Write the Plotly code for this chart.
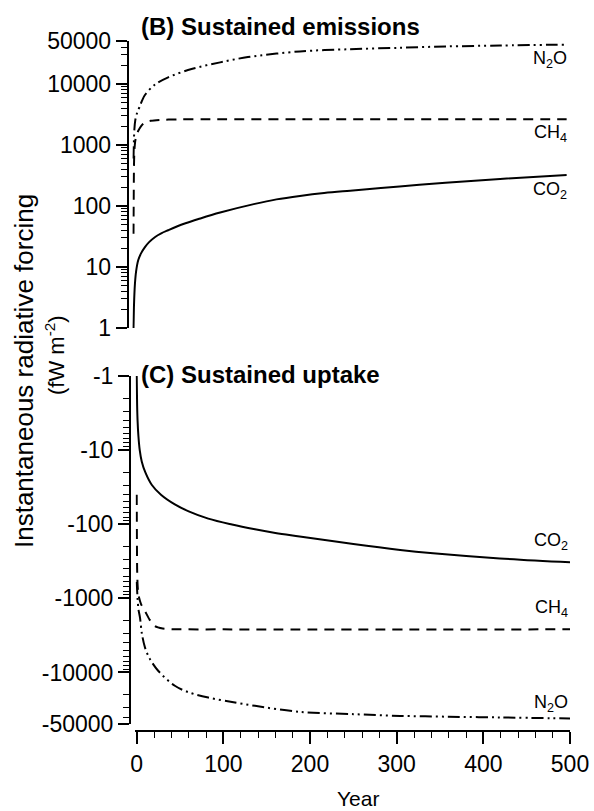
import math
import plotly.graph_objects as go

# ---------------- data ----------------
# Panel B: sustained emissions (fW m-2)
b_co2_years = [0, 0.5, 1, 1.7, 3, 5.5, 9, 13, 18, 25, 32, 40, 50, 60, 75, 100, 140, 165, 192, 220, 250, 307, 360, 423, 500]
b_co2_vals = [1, 2.2, 3.5, 5.4, 8.5, 13, 17, 21, 25.5, 31, 35.5, 40, 46, 52, 61, 78, 108, 128, 146, 163, 178, 208, 240, 277, 322]

b_ch4_years = [0, 0.5, 1, 2, 3.5, 5.5, 9, 13, 20, 30, 50, 80, 200, 500]
b_ch4_vals = [35, 400, 800, 1150, 1450, 1700, 2050, 2330, 2480, 2560, 2620, 2640, 2640, 2640]

b_n2o_years = [0, 0.5, 1, 2, 4, 7, 13, 25, 40, 67, 100, 132, 192, 250, 307, 360, 423, 500]
b_n2o_vals = [600, 1200, 1800, 2500, 3300, 4200, 6500, 9800, 12800, 17500, 22500, 27500, 34000, 37000, 39000, 41000, 42500, 44000]

# Panel C: sustained uptake (fW m-2, negative)
c_co2_years = [0, 0.5, 1, 2, 3.5, 5.8, 10, 17.3, 28, 44, 60, 82.6, 110, 136.5, 160, 188, 250, 304, 342, 419, 500]
c_co2_vals = [-1, -2.5, -4, -6.5, -10, -14.2, -20, -29.3, -40, -54, -67, -84, -101, -117, -131, -146, -185, -222, -246, -289, -326]

c_ch4_years = [0, 0.5, 1, 2, 5, 9.6, 15, 21, 30, 44, 100, 500]
c_ch4_vals = [-40, -400, -650, -900, -1200, -1490, -1950, -2370, -2550, -2610, -2620, -2620]

c_n2o_years = [0, 1, 2, 3.8, 6, 9.6, 15, 25, 44, 60, 82.6, 110, 136.5, 188, 250, 304, 360, 419, 500]
c_n2o_vals = [-600, -1000, -1400, -1820, -3000, -4620, -6500, -9550, -15100, -18500, -21800, -25000, -28200, -34000, -36500, -38500, -39500, -40400, -41700]

x_ticks = [0, 100, 200, 300, 400, 500]
x_minor = [v for v in range(20, 500, 20) if v % 100 != 0]
b_ticks = [1, 10, 100, 1000, 10000, 50000]
b_ticktext = ["1", "10", "100", "1000", "10000", "50000"]
c_ticks = [1, 10, 100, 1000, 10000, 50000]
c_ticktext = ["-1", "-10", "-100", "-1000", "-10000", "-50000"]
log_minor = [m * 10 ** d for d in range(0, 4) for m in range(2, 10)] + [20000, 30000, 40000]

# ---------------- figure ----------------
W, H = 594, 811
FONT = "Liberation Sans, Arial, Helvetica, sans-serif"
DASH_CH4 = "10px,7px"
DASH_N2O = "12px,4px,2px,4px,2px,4px"


def px(p):
    return p / W


def py(p):
    return 1 - p / H


fig = go.Figure()


def line(dash=None, smoothing=1.0):
    d = dict(color="black", width=2, shape="spline", smoothing=smoothing)
    if dash:
        d["dash"] = dash
    return d


fig.add_trace(go.Scatter(x=b_co2_years, y=b_co2_vals, mode="lines", line=line(),
                         xaxis="x2", yaxis="y2", hoverinfo="skip"))
fig.add_trace(go.Scatter(x=b_ch4_years, y=b_ch4_vals, mode="lines", line=line(DASH_CH4, 0.6),
                         xaxis="x2", yaxis="y2", hoverinfo="skip"))
fig.add_trace(go.Scatter(x=b_n2o_years, y=b_n2o_vals, mode="lines", line=line(DASH_N2O, 0.9),
                         xaxis="x2", yaxis="y2", hoverinfo="skip"))

# bottom panel: negative values shown on a reversed log scale of their magnitude
fig.add_trace(go.Scatter(x=c_co2_years, y=[-v for v in c_co2_vals], mode="lines", line=line(),
                         xaxis="x", yaxis="y", hoverinfo="skip"))
fig.add_trace(go.Scatter(x=c_ch4_years, y=[-v for v in c_ch4_vals], mode="lines", line=line(DASH_CH4, 0.6),
                         xaxis="x", yaxis="y", hoverinfo="skip"))
fig.add_trace(go.Scatter(x=c_n2o_years, y=[-v for v in c_n2o_vals], mode="lines", line=line(DASH_N2O, 0.9),
                         xaxis="x", yaxis="y", hoverinfo="skip"))

x0_bot = 136.7
x0_top = 133.5
pxyr = (570.0 - 136.7) / 500.0
pad_yr = 1.5
TICKSIZE = 23


def y_axis(**kw):
    d = dict(type="log", showline=True, linewidth=2, linecolor="black", ticks="outside",
             ticklen=11, tickwidth=1.5, tickcolor="black", showgrid=False, zeroline=False,
             automargin=False, tickformat="d", tickmode="array",
             tickfont=dict(family=FONT, size=TICKSIZE, color="black"),
             minor=dict(tickmode="array", tickvals=log_minor, ticks="outside", ticklen=6,
                        tickwidth=1, tickcolor="black", showgrid=False))
    d.update(kw)
    return d


fig.update_layout(
    width=W, height=H,
    margin=dict(l=0, r=0, t=0, b=0, pad=0, autoexpand=False),
    paper_bgcolor="white", plot_bgcolor="white",
    showlegend=False,
    font=dict(family=FONT, color="black"),
    xaxis=dict(domain=[px(x0_bot - pad_yr * pxyr), px(x0_bot + 500 * pxyr)], range=[-pad_yr, 500],
               anchor="free", position=py(731), automargin=False,
               showline=True, linewidth=2, linecolor="black", ticks="outside", ticklen=12, tickwidth=1.5,
               tickcolor="black", tickmode="array", tickvals=x_ticks, ticktext=[str(v) for v in x_ticks],
               tickfont=dict(family=FONT, size=TICKSIZE, color="black"),
               minor=dict(tickmode="array", tickvals=x_minor, ticks="outside", ticklen=6, tickwidth=1,
                          tickcolor="black", showgrid=False),
               showgrid=False, zeroline=False),
    yaxis=y_axis(domain=[py(724.3), py(376)], range=[math.log10(50000), 0], anchor="free",
                 position=px(130), tickvals=c_ticks, ticktext=c_ticktext),
    xaxis2=dict(domain=[px(x0_top - pad_yr * pxyr), px(x0_top + 500 * pxyr)], range=[-pad_yr, 500],
                anchor="y2", visible=False, showgrid=False, zeroline=False, automargin=False),
    yaxis2=y_axis(domain=[py(328), py(41.2)], range=[0, math.log10(50000)], anchor="free",
                  position=px(127.7), tickvals=b_ticks, ticktext=b_ticktext),
)

ann = []


def add_text(text, x, y, size, xanchor="center", yanchor="middle", angle=0, bold=False):
    t = f"<b>{text}</b>" if bold else text
    ann.append(dict(text=t, x=px(x), y=py(y), xref="paper", yref="paper", xanchor=xanchor, yanchor=yanchor,
                    showarrow=False, textangle=angle, font=dict(family=FONT, size=size, color="black")))


add_text("(B) Sustained emissions", 139, 27, 24, xanchor="left", bold=True)
add_text("(C) Sustained uptake", 139, 374, 24, xanchor="left", bold=True)
add_text("Instantaneous radiative forcing", 24, 371, 26, angle=-90)
add_text("(fW m<sup>-2</sup>)", 55, 355, 22, angle=-90)
add_text("Year", 358, 798, 21)

add_text("N<sub>2</sub>O", 569, 60, 18, xanchor="right")
add_text("CH<sub>4</sub>", 569, 133, 18, xanchor="right")
add_text("CO<sub>2</sub>", 569, 190, 18, xanchor="right")
add_text("CO<sub>2</sub>", 570, 541, 18, xanchor="right")
add_text("CH<sub>4</sub>", 570, 608, 18, xanchor="right")
add_text("N<sub>2</sub>O", 570, 703, 18, xanchor="right")

fig.update_layout(annotations=ann)

fig.write_html("out.html", config={"displayModeBar": False},
               post_script="document.body.style.margin='0px';document.body.style.padding='0px';")
